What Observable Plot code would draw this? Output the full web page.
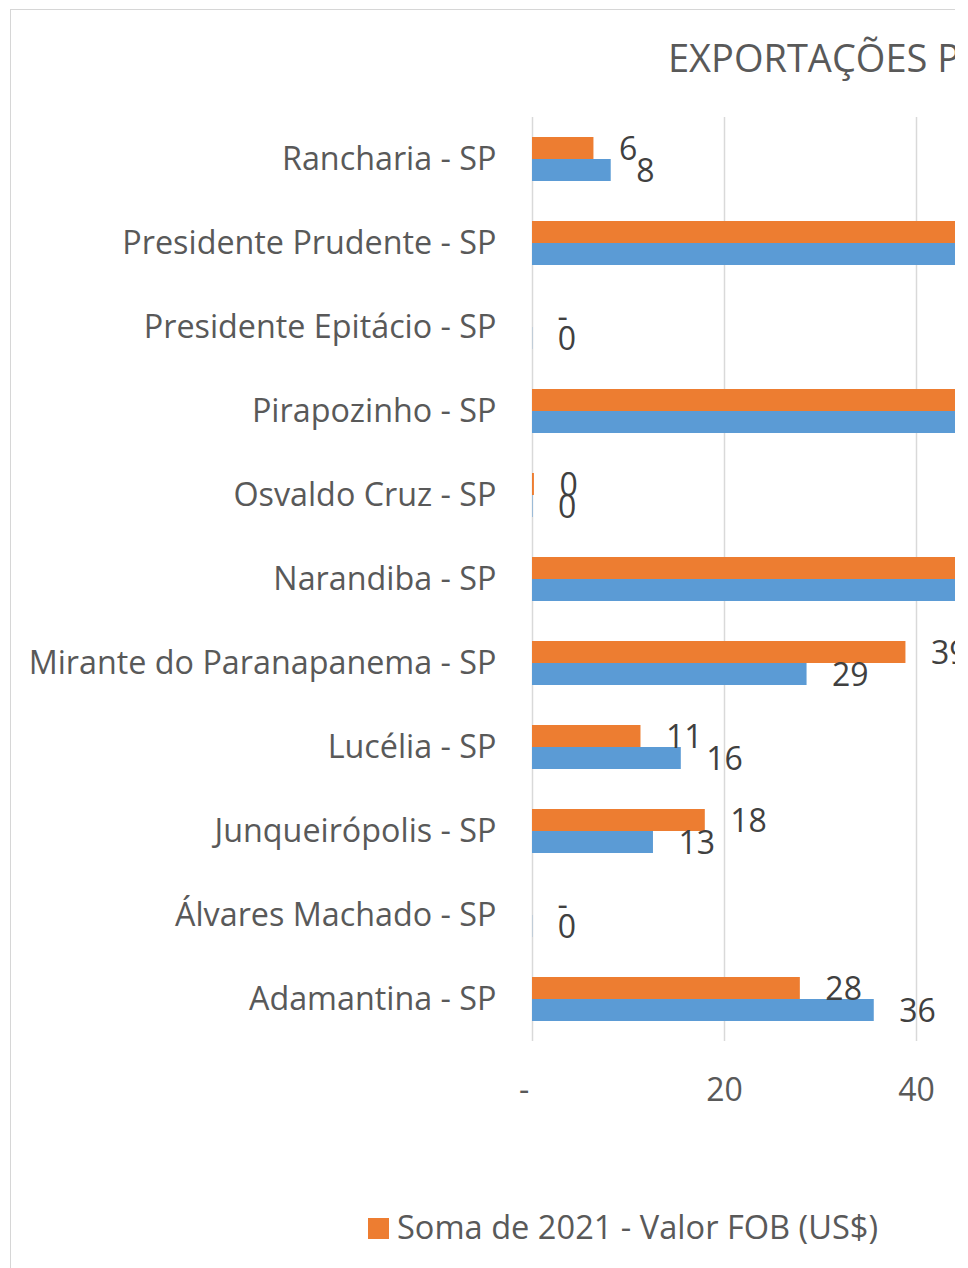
<!DOCTYPE html>
<html>
<head>
<meta charset="utf-8">
<script src="https://cdn.jsdelivr.net/npm/d3@7"></script>
<script src="https://cdn.jsdelivr.net/npm/@observablehq/plot@0.6"></script>
<style>
  html, body { margin: 0; padding: 0; background: #ffffff; }
  body { font-family: "Open Sans", sans-serif; }
  #clip { position: absolute; left: 0; top: 0; width: 955px; height: 1268px; overflow: hidden; }
  #frame { position: absolute; left: 10px; top: 9px; width: 1760px; height: 1300px; border: 1.5px solid #d6d6d6; box-sizing: border-box; }
  #chart { position: absolute; left: 0; top: 0; width: 1760px; }
  #chart svg { max-width: none !important; width: 1760px; height: 1130px; }
  #title { position: absolute; left: 668px; top: 38px; font-size: 38px; line-height: 1; color: #595959; white-space: nowrap; }
  .lg-sw { position: absolute; width: 21px; height: 21px; }
  .lg-tx { position: absolute; font-size: 32.6px; line-height: 1; color: #595959; white-space: nowrap; }
</style>
</head>
<body>
<div id="clip">
  <div id="frame"></div>
  <div id="chart"></div>
  <div id="title"></div>
  <div id="legend"></div>
</div>
<script>
// ---- data (bars cut off at the right edge are estimates) ----
const title = "EXPORTAÇÕES POR MUNICÍPIO";
const cities = [
  "Rancharia - SP",
  "Presidente Prudente - SP",
  "Presidente Epitácio - SP",
  "Pirapozinho - SP",
  "Osvaldo Cruz - SP",
  "Narandiba - SP",
  "Mirante do Paranapanema - SP",
  "Lucélia - SP",
  "Junqueirópolis - SP",
  "Álvares Machado - SP",
  "Adamantina - SP"
];
const fob2021 = [6.4, 112, 0, 74, 0.2, 63, 38.9, 11.3, 18.0, 0, 27.9];
const fob2022 = [8.2, 97, 0.02, 88, 0.05, 105, 28.6, 15.5, 12.6, 0.02, 35.6];
const seriesNames = ["Soma de 2021 - Valor FOB (US$)", "Soma de 2022 - Valor FOB (US$)"];
const seriesColors = ["#ED7D31", "#5B9BD5"];
const xTicks = [0, 20, 40, 60, 80, 100, 120];

// ---- build ----
const data = cities.map((c, i) => ({ city: c, a: fob2021[i], b: fob2022[i] }));
const fmt = v => v === 0 ? "-" : String(Math.round(v));
const fmtAxis = d => d === 0 ? "-\u00a0\u00a0" : String(d);

const chart = Plot.plot({
  width: 1760,
  height: 1130,
  marginLeft: 532,
  marginRight: 76,
  marginTop: 117,
  marginBottom: 89,
  x: { domain: [0, 120], axis: null },
  y: { domain: cities, padding: 0, axis: null },
  style: { fontFamily: "'Open Sans', sans-serif", background: "transparent", color: "#595959", maxWidth: "none" },
  marks: [
    Plot.gridX(xTicks, { stroke: "#d9d9d9", strokeOpacity: 1, strokeWidth: 1.5 }),
    Plot.barX(data, { x: "a", y: "city", fill: seriesColors[0], insetTop: 20, insetBottom: 42 }),
    Plot.barX(data, { x: "b", y: "city", fill: seriesColors[1], insetTop: 42, insetBottom: 20 }),
    Plot.text(data, { x: "a", y: "city", text: d => fmt(d.a), dx: 25, dy: -10, textAnchor: "start", fontSize: 32, fill: "#404040" }),
    Plot.text(data, { x: "b", y: "city", text: d => fmt(d.b), dx: 25, dy: 12, textAnchor: "start", fontSize: 32, fill: "#404040" }),
    Plot.axisX(xTicks, { tickSize: 0, tickPadding: 37, fontSize: 32, tickFormat: fmtAxis, fill: "#595959", label: null }),
    Plot.axisY({ tickSize: 0, tickPadding: 36, fontSize: 32.3, fill: "#595959", label: null })
  ]
});
document.getElementById("chart").appendChild(chart);
document.getElementById("title").textContent = title;

// legend (second entry lies beyond the visible crop)
const legend = document.getElementById("legend");
const legendX = [368, 980];
seriesNames.forEach((name, i) => {
  const sw = document.createElement("div");
  sw.className = "lg-sw";
  sw.style.left = legendX[i] + "px";
  sw.style.top = "1218px";
  sw.style.background = seriesColors[i];
  legend.appendChild(sw);
  const tx = document.createElement("div");
  tx.className = "lg-tx";
  tx.style.left = (legendX[i] + 29) + "px";
  tx.style.top = "1211px";
  tx.textContent = name;
  legend.appendChild(tx);
});
</script>
</body>
</html>
